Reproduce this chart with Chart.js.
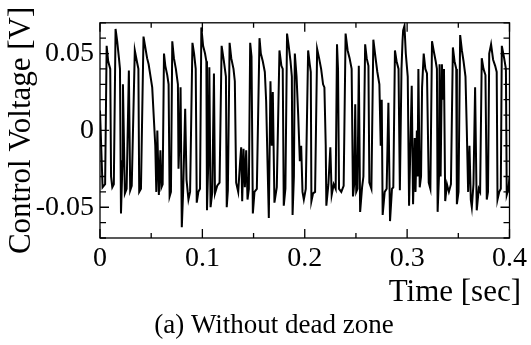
<!DOCTYPE html>
<html>
<head>
<meta charset="utf-8">
<script src="https://cdn.jsdelivr.net/npm/chart.js@4.4.1/dist/chart.umd.min.js"></script>
<style>
  body { margin: 0; background: #fff; }
  #wrap { width: 531px; height: 345px; }
</style>
</head>
<body>
<div id="wrap"><canvas id="myChart" width="531" height="345"></canvas></div>
<script>
// time in milliseconds
const timeMs = [
  0, 2.5, 5, 6.5, 8, 10, 10.8, 12, 13.5, 15.2, 16.8, 18.5, 19.5, 20.5, 22, 22.4, 24.3, 26, 28.2, 29.5,
  31, 34, 36, 37.5, 38.3, 40, 42.5, 44, 46, 47.5, 51, 54, 55, 56, 57.5, 59, 60, 61.2, 62.5, 63.8,
  65.7, 67, 68, 69.3, 70.6, 72.2, 74.1, 76.1, 76.7, 78, 78.7, 79.9, 81.2, 83.2, 84.5, 86.4, 88, 90.3, 91.9, 93.5,
  94.5, 96.1, 97.7, 99, 100.7, 102.6, 103.9, 104.5, 105.8, 106.8, 108, 109.7, 111.3, 112.3, 114.5, 116.8, 118.8, 121, 123, 123.8,
  124.9, 126.6, 128.2, 130.4, 131.7, 133, 135, 136.9, 137.9, 138.9, 140.2, 141.5, 142.8, 144.1, 145.4, 146.7, 148, 149.3, 150.9, 153.2,
  155.8, 157.1, 159, 161, 162.3, 163.6, 164.9, 166.5, 167.8, 168.8, 170.4, 172.7, 175.3, 177.2, 178.5, 179.5, 181.1, 182.7, 184.3, 186.1,
  187.4, 188.1, 189.4, 190.3, 192, 193.6, 195.2, 196.5, 197.8, 199.1, 201, 203.3, 204.9, 205.9, 206.5, 208.1, 210.1, 212.1, 214, 216,
  217.9, 219.2, 220.5, 221.1, 223.1, 225, 226.3, 228.3, 230.2, 231.5, 232.5, 233.5, 235.7, 238, 239.9, 241.9, 243.8, 245.8, 247.1, 248.3,
  249.3, 250.3, 251.5, 252.8, 254.1, 256, 257.3, 259, 260.5, 262.2, 263.1, 265.1, 267, 269, 270.9, 272.9, 274.2, 275.2, 276.1, 278.1,
  280, 281.7, 283.3, 285.2, 286.5, 288.1, 289.7, 291.6, 292.9, 294.5, 295.5, 296.1, 297.4, 298.7, 300.6, 301.9, 303.2, 304.5, 305.8, 307.4,
  308.2, 309.5, 310.2, 311, 312.3, 313.6, 314.6, 316.2, 317.8, 319.4, 321.1, 322.7, 324.3, 325.9, 327.9, 329.1, 329.8, 331.1, 331.7, 332.7,
  334, 335, 336, 337.2, 338.9, 340.8, 342.8, 344.7, 346.3, 348, 348.6, 350.2, 351.8, 353.5, 355.1, 357, 358.3, 359.6, 360.9, 362.2,
  363.2, 364.8, 366.4, 368, 370, 371.3, 372.9, 374.6, 376.5, 377.8, 379, 380.2, 382, 384, 386, 387.5, 388.3, 390, 391.5, 392.5,
  394.5, 396.5, 397.3, 399, 400
]
const voltage = [
  0.013, -0.037, -0.035, 0.055, 0.045, 0.040, -0.030, -0.037, -0.035, 0.066, 0.058, 0.047, 0.040, -0.054, -0.020, 0.030, -0.041, -0.038, 0.039, -0.039,
  -0.036, 0.052, 0.045, 0.040, -0.040, -0.038, 0.061, 0.055, 0.047, 0.043, 0.028, -0.010, -0.040, 0.000, -0.042, -0.013, -0.037, -0.035, 0.050, 0.042,
  0.036, 0.030, -0.043, -0.040, 0.058, 0.047, 0.040, 0.030, -0.025, 0.000, 0.028, -0.063, -0.040, 0.014, -0.032, -0.045, -0.040, 0.057, 0.050, 0.040,
  -0.047, -0.040, -0.038, 0.067, 0.055, 0.050, 0.045, -0.052, -0.020, 0.041, -0.050, -0.040, 0.037, -0.041, -0.036, -0.034, 0.055, 0.045, 0.035, -0.050,
  -0.039, 0.057, 0.047, 0.040, 0.032, -0.034, -0.040, -0.020, -0.011, -0.046, -0.012, -0.037, -0.013, -0.045, -0.038, 0.057, 0.048, -0.054, -0.040, -0.038,
  0.060, 0.050, 0.045, 0.038, 0.019, -0.020, -0.057, 0.032, -0.010, 0.025, -0.047, -0.037, 0.052, 0.042, 0.040, -0.049, -0.038, 0.063, 0.055, 0.045,
  0.035, -0.055, -0.030, 0.050, 0.035, 0.010, -0.020, -0.010, -0.040, -0.045, -0.038, 0.052, 0.043, 0.038, -0.046, -0.041, -0.040, 0.053, 0.047, 0.040,
  0.030, 0.028, -0.010, -0.049, -0.035, -0.011, -0.042, -0.035, -0.038, 0.056, 0.040, -0.038, -0.040, -0.036, 0.063, 0.052, 0.047, 0.040, -0.043, -0.035,
  0.017, -0.040, -0.038, 0.042, -0.053, -0.037, -0.030, 0.056, 0.047, 0.042, -0.034, -0.038, 0.059, 0.048, 0.038, 0.030, -0.010, 0.020, -0.055, -0.040,
  -0.038, 0.018, -0.059, -0.038, -0.037, 0.052, 0.045, 0.040, -0.039, 0.040, 0.058, 0.065, 0.068, 0.050, 0.035, -0.049, -0.010, 0.029, -0.048, -0.005,
  -0.040, 0.000, -0.030, 0.040, -0.037, -0.030, 0.028, 0.050, 0.040, 0.037, -0.034, -0.038, 0.058, 0.052, 0.045, 0.040, -0.053, -0.030, 0.043, -0.030,
  0.043, 0.020, 0.040, -0.046, -0.035, -0.040, -0.035, 0.054, 0.045, 0.040, -0.048, -0.040, 0.062, 0.052, 0.045, 0.035, 0.000, -0.040, -0.010, -0.045,
  -0.050, -0.035, 0.028, -0.052, -0.038, -0.040, 0.047, 0.040, 0.036, -0.045, -0.040, 0.050, 0.056, 0.046, 0.042, 0.038, -0.045, -0.040, -0.038, 0.055,
  0.048, 0.040, -0.042, -0.038, -0.030
]
const xTicks = [0, 0.1, 0.2, 0.3, 0.4]
const yTicks = [-0.05, 0, 0.05]

const serif = "'Liberation Serif', 'Times New Roman', serif"

let points = []
for (let i = 0; i < timeMs.length; i++) {
    points.push({ x: timeMs[i] / 1000, y: voltage[i] })
}

function isIn(list, v) {
    return list.some(t => Math.abs(t - v) < 1e-9)
}

// box round the plot, ticks pointing inwards on all four sides, plus the x title and caption
const frame = {
    id: 'frame',
    afterDraw(chart) {
        const ctx = chart.ctx
        const a = chart.chartArea
        const xs = chart.scales.x
        const ys = chart.scales.y
        ctx.save()
        ctx.strokeStyle = '#000'
        ctx.lineWidth = 1.3
        ctx.strokeRect(a.left, a.top, a.right - a.left, a.bottom - a.top)
        ctx.beginPath()
        xs.ticks.forEach(t => {
            const px = xs.getPixelForValue(t.value)
            const len = isIn(xTicks, t.value) ? 9 : 5
            ctx.moveTo(px, a.bottom); ctx.lineTo(px, a.bottom - len)
            ctx.moveTo(px, a.top); ctx.lineTo(px, a.top + len)
        })
        ys.ticks.forEach(t => {
            const py = ys.getPixelForValue(t.value)
            const len = isIn(yTicks, t.value) ? 9 : 6
            ctx.moveTo(a.left, py); ctx.lineTo(a.left + len, py)
            ctx.moveTo(a.right, py); ctx.lineTo(a.right - len, py)
        })
        ctx.stroke()

        ctx.fillStyle = '#000'
        ctx.textBaseline = 'alphabetic'
        ctx.font = '31px ' + serif
        ctx.textAlign = 'right'
        ctx.fillText('Time [sec]', 521, 301)
        ctx.font = '27px ' + serif
        ctx.textAlign = 'center'
        ctx.fillText('(a) Without dead zone', 274, 333)
        ctx.restore()
    }
}

new Chart("myChart", {
    type: "line",
    data: {
        datasets: [{
            data: points,
            borderColor: "#000",
            borderWidth: 2,
            pointRadius: 0,
            tension: 0,
            fill: false
        }]
    },
    options: {
        responsive: false,
        animation: false,
        layout: { padding: { left: 0, right: 18, top: 22, bottom: 0 } },
        plugins: {
            legend: { display: false },
            tooltip: { enabled: false }
        },
        scales: {
            x: {
                type: "linear",
                min: 0,
                max: 0.4,
                grid: { display: false, drawTicks: false },
                border: { display: false },
                ticks: {
                    stepSize: 0.05,
                    autoSkip: false,
                    maxRotation: 0,
                    padding: 4,
                    color: "#000",
                    font: { family: serif, size: 28 },
                    callback: v => isIn(xTicks, v) ? String(Math.round(v * 10) / 10) : ""
                },
                afterFit: s => { s.height = 107 }
            },
            y: {
                min: -0.07,
                max: 0.07,
                grid: { display: false, drawTicks: false },
                border: { display: false },
                ticks: {
                    stepSize: 0.01,
                    autoSkip: false,
                    padding: 6,
                    color: "#000",
                    font: { family: serif, size: 28 },
                    callback: v => isIn(yTicks, v) ? String(Math.round(v * 100) / 100) : ""
                },
                title: {
                    display: true,
                    text: "Control Voltage [V]",
                    color: "#000",
                    font: { family: serif, size: 31 },
                    padding: { top: 3, bottom: 0 }
                },
                afterFit: s => { s.width = 100 }
            }
        }
    },
    plugins: [frame]
})
</script>
</body>
</html>
